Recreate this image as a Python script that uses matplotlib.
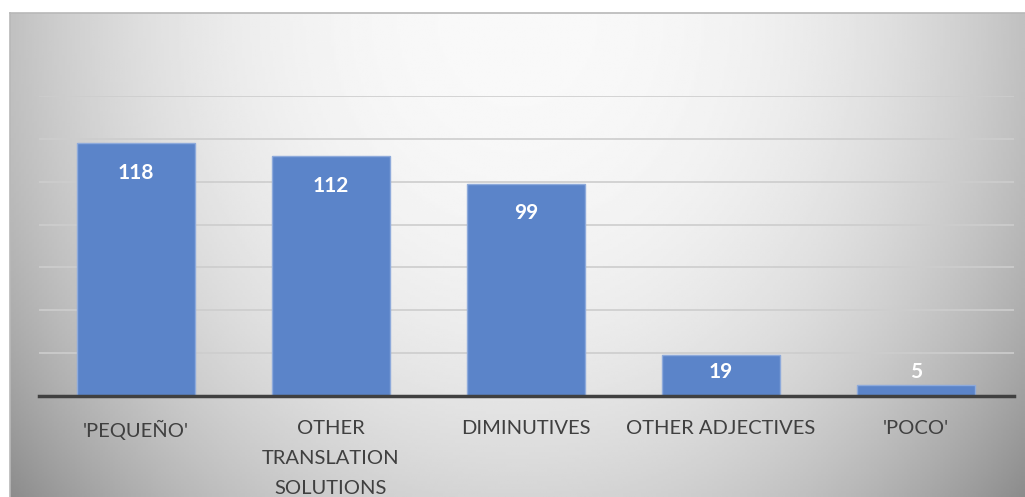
import numpy as np
import matplotlib.pyplot as plt

# datos del grafico
categorias = ["'PEQUEÑO'", "OTHER\nTRANSLATION\nSOLUTIONS", "DIMINUTIVES",
              "OTHER ADJECTIVES", "'POCO'"]
valores = [118, 112, 99, 19, 5]

plt.rcParams['font.family'] = ['Lato', 'DejaVu Sans']

fig = plt.figure(figsize=(10.25, 4.97), dpi=100)
fig.patch.set_facecolor('white')

# fondo con degradado radial (estilo excel)
bg = fig.add_axes([10 / 1025, 0, 1015 / 1025, 484 / 497])
u = np.linspace(0, 1, 400)
v = np.linspace(0, 1, 200)
U, V = np.meshgrid(u, v)
d = np.sqrt(((U - 0.5) / 0.5) ** 2 + (V / 1.2) ** 2)
gris = np.clip(0.975 - 0.22 * d ** 2.5, 0, 1)
bg.imshow(gris, cmap='gray', vmin=0, vmax=1, aspect='auto', extent=[0, 1, 0, 1])
bg.set_xticks([])
bg.set_yticks([])
for lado in ['right', 'bottom']:
    bg.spines[lado].set_visible(False)
for lado in ['top', 'left']:
    bg.spines[lado].set_color('#b8b8b8')
    bg.spines[lado].set_linewidth(1.2)

# area del grafico
ax = fig.add_axes([38.5 / 1025, 101 / 497, 975 / 1025, 300 / 497])
ax.patch.set_alpha(0)
x = np.arange(len(categorias))
barras = ax.bar(x, valores, width=0.605, color='#5b84c9', edgecolor='#8eaadb',
                linewidth=1, zorder=3)
ax.set_xlim(-0.5, len(categorias) - 0.5)
ax.set_ylim(0, 140)
ax.set_yticks(np.arange(20, 141, 20))
ax.yaxis.grid(True, color='#cdcdcd', linewidth=1.2, zorder=0)
ax.tick_params(axis='y', left=False, labelleft=False)
ax.tick_params(axis='x', bottom=False, pad=14)
ax.set_xticks(x)
ax.set_xticklabels(categorias, fontsize=14.5, color='#404040', linespacing=1.9, va='top')
for lado in ['top', 'right', 'left']:
    ax.spines[lado].set_visible(False)
ax.spines['bottom'].set_color('#404040')
ax.spines['bottom'].set_linewidth(2.5)
ax.spines['bottom'].set_zorder(4)

# etiquetas de valores
for i, val in enumerate(valores):
    if val >= 50:
        ax.annotate(str(val), (i, val), xytext=(0, -29.5 * 0.72), textcoords='offset points',
                    ha='center', va='center', color='white', fontsize=15, fontweight='bold', zorder=5)
    else:
        ax.annotate(str(val), (i, 0), xytext=(0, 23.5 * 0.72), textcoords='offset points',
                    ha='center', va='center', color='white', fontsize=15, fontweight='bold', zorder=5)

fig.savefig('out.png', dpi=100)
